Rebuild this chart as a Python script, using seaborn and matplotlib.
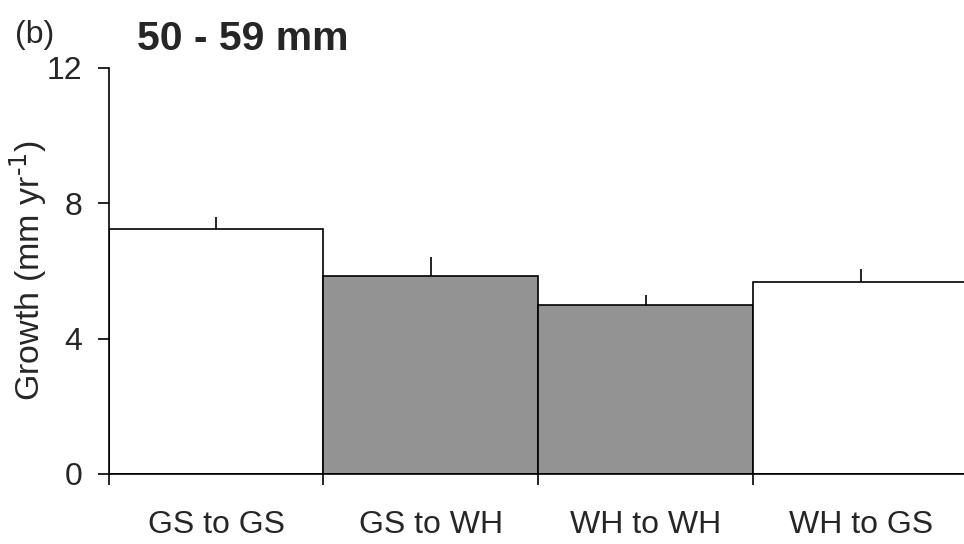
import numpy as np
import pandas as pd
import seaborn as sns
import matplotlib
matplotlib.use("Agg")
import matplotlib.pyplot as plt
from matplotlib.ticker import FixedLocator

# data
categories = ["GS to GS", "GS to WH", "WH to WH", "WH to GS"]
growth = [7.24, 5.84, 4.98, 5.68]
growth_se = [0.34, 0.56, 0.31, 0.37]
fill_colors = ["#ffffff", "#939393", "#939393", "#ffffff"]

sns.set_theme(style="ticks")
plt.rcParams["font.family"] = ["Liberation Sans", "DejaVu Sans"]
plt.rcParams["mathtext.default"] = "regular"

df = pd.DataFrame({"group": categories, "growth": growth, "se": growth_se})

fig = plt.figure(figsize=(9.64, 5.44), dpi=100)
ax = fig.add_axes([0.1126, 0.1287, 0.8874, 0.7469])

sns.barplot(data=df, x="group", y="growth", hue="group", palette=fill_colors,
            width=1.0, edgecolor="black", linewidth=1.2, legend=False,
            errorbar=None, saturation=1, ax=ax)

# upper error bars only, no caps
xpos = np.arange(len(categories))
ax.errorbar(xpos, df["growth"], yerr=[np.zeros(len(xpos)), df["se"]],
            fmt="none", ecolor="black", elinewidth=1.2, capsize=0)

ax.set_xlim(-0.5, 3.48)
ax.set_ylim(0, 12)
ax.set_yticks([0, 4, 8, 12])
ax.set_xticks(xpos)
ax.set_xticklabels(categories, fontsize=23)
ax.xaxis.set_minor_locator(FixedLocator(np.arange(-0.5, 4.0, 1.0)))
ax.tick_params(axis="x", which="major", length=0, pad=26)
ax.tick_params(axis="x", which="minor", length=8, width=1.2, color="black")
ax.tick_params(axis="y", length=8, width=1.2, color="black", pad=11, labelsize=23)

for side in ["top", "right"]:
    ax.spines[side].set_visible(False)
for side in ["left", "bottom"]:
    ax.spines[side].set_color("black")
    ax.spines[side].set_linewidth(1.2)

ax.set_xlabel("")
ax.set_ylabel(r"Growth (mm yr$^{\text{-1}}$)", fontsize=24.5, labelpad=-2.5)

fig.text(15 / 964, 1 - 43 / 544, "(b)", fontsize=23, va="baseline", ha="left")
fig.text(137 / 964, 1 - 50 / 544, "50 - 59 mm", fontsize=29.5, fontweight="bold",
         va="baseline", ha="left")

fig.savefig("out.png", dpi=100)
